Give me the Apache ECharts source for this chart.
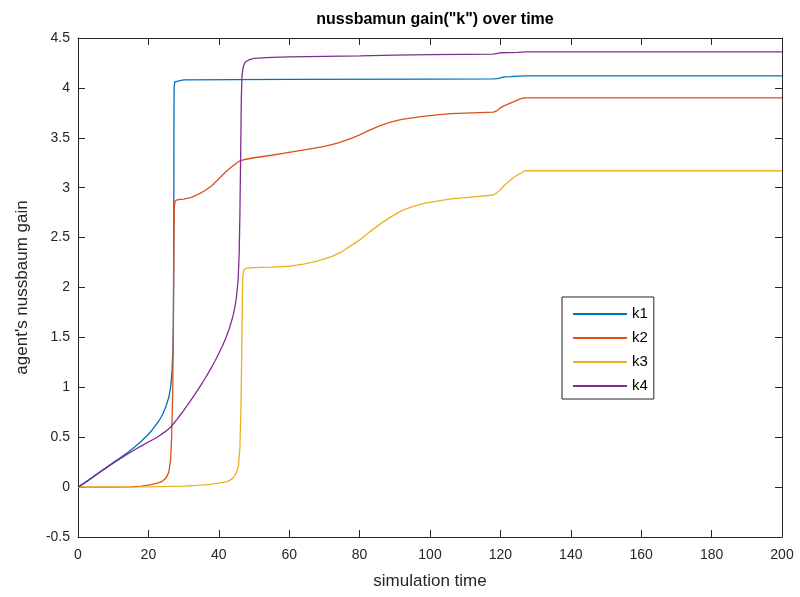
<!DOCTYPE html>
<html>
<head>
<meta charset="utf-8">
<script src="https://cdn.jsdelivr.net/npm/echarts@6/dist/echarts.min.js"></script>
<style>html,body{margin:0;padding:0;background:#fff}#c{width:800px;height:597px}</style>
</head>
<body>
<div id="c"></div>
<script>
const seriesNames = ['k1', 'k2', 'k3', 'k4'];
const xTicks = [0, 20, 40, 60, 80, 100, 120, 140, 160, 180, 200];
const yTicks = [-0.5, 0, 0.5, 1, 1.5, 2, 2.5, 3, 3.5, 4, 4.5];

const k1Time = [0, 2, 4, 6, 8, 10, 12, 14, 16, 18, 20, 21, 22, 23, 24, 25, 25.8, 26.3, 26.7, 27.0, 27.1, 27.2, 27.25, 27.3, 27.5, 28, 30, 60, 100, 118, 119, 120, 121, 123, 125, 127, 200];
const k1Value = [0, 0.045, 0.095, 0.145, 0.195, 0.245, 0.295, 0.345, 0.40, 0.46, 0.53, 0.57, 0.615, 0.665, 0.725, 0.81, 0.9, 1.0, 1.15, 1.4, 1.7, 2.5, 3.5, 4.0, 4.06, 4.075, 4.08, 4.085, 4.088, 4.09, 4.092, 4.1, 4.11, 4.113, 4.118, 4.12, 4.12];

const k2Time = [0, 10, 15, 18, 20, 22, 23, 24, 25, 25.8, 26.3, 26.6, 26.9, 27.1, 27.25, 27.35, 27.6, 28.5, 30, 32, 34, 36, 38, 40, 42, 44, 46, 47, 50, 55, 60, 66, 70, 74, 78, 80, 83, 86, 89, 92, 95, 98, 102, 106, 110, 118, 119, 120, 121, 122, 123, 124, 125, 126, 127, 200];
const k2Value = [0, 0, 0.003, 0.01, 0.02, 0.035, 0.045, 0.06, 0.09, 0.15, 0.27, 0.5, 0.95, 1.6, 2.4, 2.8, 2.87, 2.88, 2.885, 2.9, 2.93, 2.97, 3.02, 3.09, 3.16, 3.22, 3.27, 3.28, 3.30, 3.325, 3.355, 3.39, 3.415, 3.45, 3.50, 3.53, 3.58, 3.625, 3.66, 3.685, 3.70, 3.715, 3.73, 3.742, 3.748, 3.757, 3.77, 3.80, 3.82, 3.835, 3.85, 3.865, 3.88, 3.895, 3.90, 3.90];

const k3Time = [0, 20, 30, 35, 38, 40, 42, 43, 44, 45, 45.6, 46.0, 46.3, 46.5, 46.7, 46.85, 47.2, 48, 50, 55, 60, 64, 68, 72, 75, 78, 80, 83, 86, 89, 92, 95, 98, 102, 106, 110, 118, 119, 120, 121, 122, 123, 124, 125, 126, 127, 200];
const k3Value = [0, 0.002, 0.01, 0.02, 0.03, 0.04, 0.052, 0.065, 0.09, 0.14, 0.22, 0.4, 0.8, 1.3, 1.9, 2.12, 2.18, 2.195, 2.2, 2.205, 2.213, 2.235, 2.265, 2.31, 2.36, 2.43, 2.475, 2.56, 2.64, 2.71, 2.77, 2.81, 2.84, 2.865, 2.888, 2.9, 2.927, 2.95, 2.98, 3.02, 3.05, 3.08, 3.11, 3.13, 3.15, 3.17, 3.17];

const k4Time = [0, 2, 4, 6, 8, 10, 12, 14, 16, 18, 20, 22, 23, 24, 25, 26, 27, 28, 29, 30, 31, 32, 33, 34, 35, 36, 37, 38, 39, 40, 41, 42, 43, 44, 44.5, 45, 45.5, 45.8, 46.0, 46.2, 46.4, 46.6, 47, 47.5, 48.5, 50, 55, 60, 70, 80, 90, 100, 110, 118, 118.5, 120, 125, 127, 200];
const k4Value = [0, 0.045, 0.095, 0.145, 0.193, 0.24, 0.285, 0.33, 0.372, 0.413, 0.452, 0.49, 0.512, 0.536, 0.561, 0.59, 0.63, 0.674, 0.72, 0.767, 0.816, 0.866, 0.918, 0.971, 1.026, 1.083, 1.142, 1.204, 1.269, 1.338, 1.412, 1.494, 1.59, 1.71, 1.79, 1.9, 2.08, 2.35, 2.75, 3.3, 3.9, 4.13, 4.22, 4.26, 4.28, 4.295, 4.305, 4.31, 4.315, 4.32, 4.328, 4.333, 4.336, 4.338, 4.35, 4.352, 4.355, 4.36, 4.36];

const colors = ['#0072BD', '#D95319', '#EDB120', '#7E2F8E'];
const times = [k1Time, k2Time, k3Time, k4Time];
const values = [k1Value, k2Value, k3Value, k4Value];

const axisColor = '#262626';
const fontFamily = 'Liberation Sans, Helvetica, Arial, sans-serif';

function baseAxis(ticks) {
  return {
    type: 'value',
    min: ticks[0],
    max: ticks[ticks.length - 1],
    interval: ticks[1] - ticks[0],
    splitLine: { show: false },
    axisLine: { show: true, onZero: false, lineStyle: { color: axisColor, width: 1 } },
    axisTick: { show: true, inside: true, length: 7, lineStyle: { color: axisColor, width: 1 } }
  };
}

const chart = echarts.init(document.getElementById('c'), null, { renderer: 'canvas' });
chart.setOption({
  animation: false,
  backgroundColor: '#fff',
  color: colors,
  title: {
    text: 'nussbamun gain("k") over time',
    left: 430,
    textAlign: 'center',
    top: 7,
    textStyle: { fontFamily, fontSize: 16, fontWeight: 'bold', color: '#000' }
  },
  grid: { left: 78, right: 18, top: 38, bottom: 60, containLabel: false },
  legend: {
    orient: 'vertical',
    left: 562,
    top: 297,
    width: 95,
    padding: [9, 6, 5, 11],
    itemGap: 8,
    itemWidth: 54,
    itemHeight: 2,
    icon: 'rect',
    borderColor: '#262626',
    borderWidth: 1,
    backgroundColor: '#fff',
    textStyle: { fontFamily, fontSize: 15, color: '#000', lineHeight: 16 },
    data: seriesNames
  },
  xAxis: [
    Object.assign(baseAxis(xTicks), {
      position: 'bottom',
      name: 'simulation time',
      nameLocation: 'middle',
      nameGap: 36,
      nameTextStyle: { fontFamily, fontSize: 17, color: axisColor },
      axisLabel: { show: true, margin: 11, color: axisColor, fontFamily, fontSize: 14 }
    }),
    Object.assign(baseAxis(xTicks), {
      position: 'top',
      axisLabel: { show: false }
    })
  ],
  yAxis: [
    Object.assign(baseAxis(yTicks), {
      position: 'left',
      name: "agent's nussbaum gain",
      nameLocation: 'middle',
      nameGap: 47,
      nameTextStyle: { fontFamily, fontSize: 17, color: axisColor },
      axisLabel: { show: true, margin: 8, color: axisColor, fontFamily, fontSize: 14 }
    }),
    Object.assign(baseAxis(yTicks), {
      position: 'right',
      axisLabel: { show: false }
    })
  ],
  series: seriesNames.map((name, i) => ({
    name,
    type: 'line',
    xAxisIndex: 0,
    yAxisIndex: 0,
    data: times[i].map((t, j) => [t, values[i][j]]),
    showSymbol: false,
    symbol: 'none',
    smooth: false,
    lineStyle: { width: 1.3, color: colors[i] },
    itemStyle: { color: colors[i] },
    z: 2
  }))
});
</script>
</body>
</html>
